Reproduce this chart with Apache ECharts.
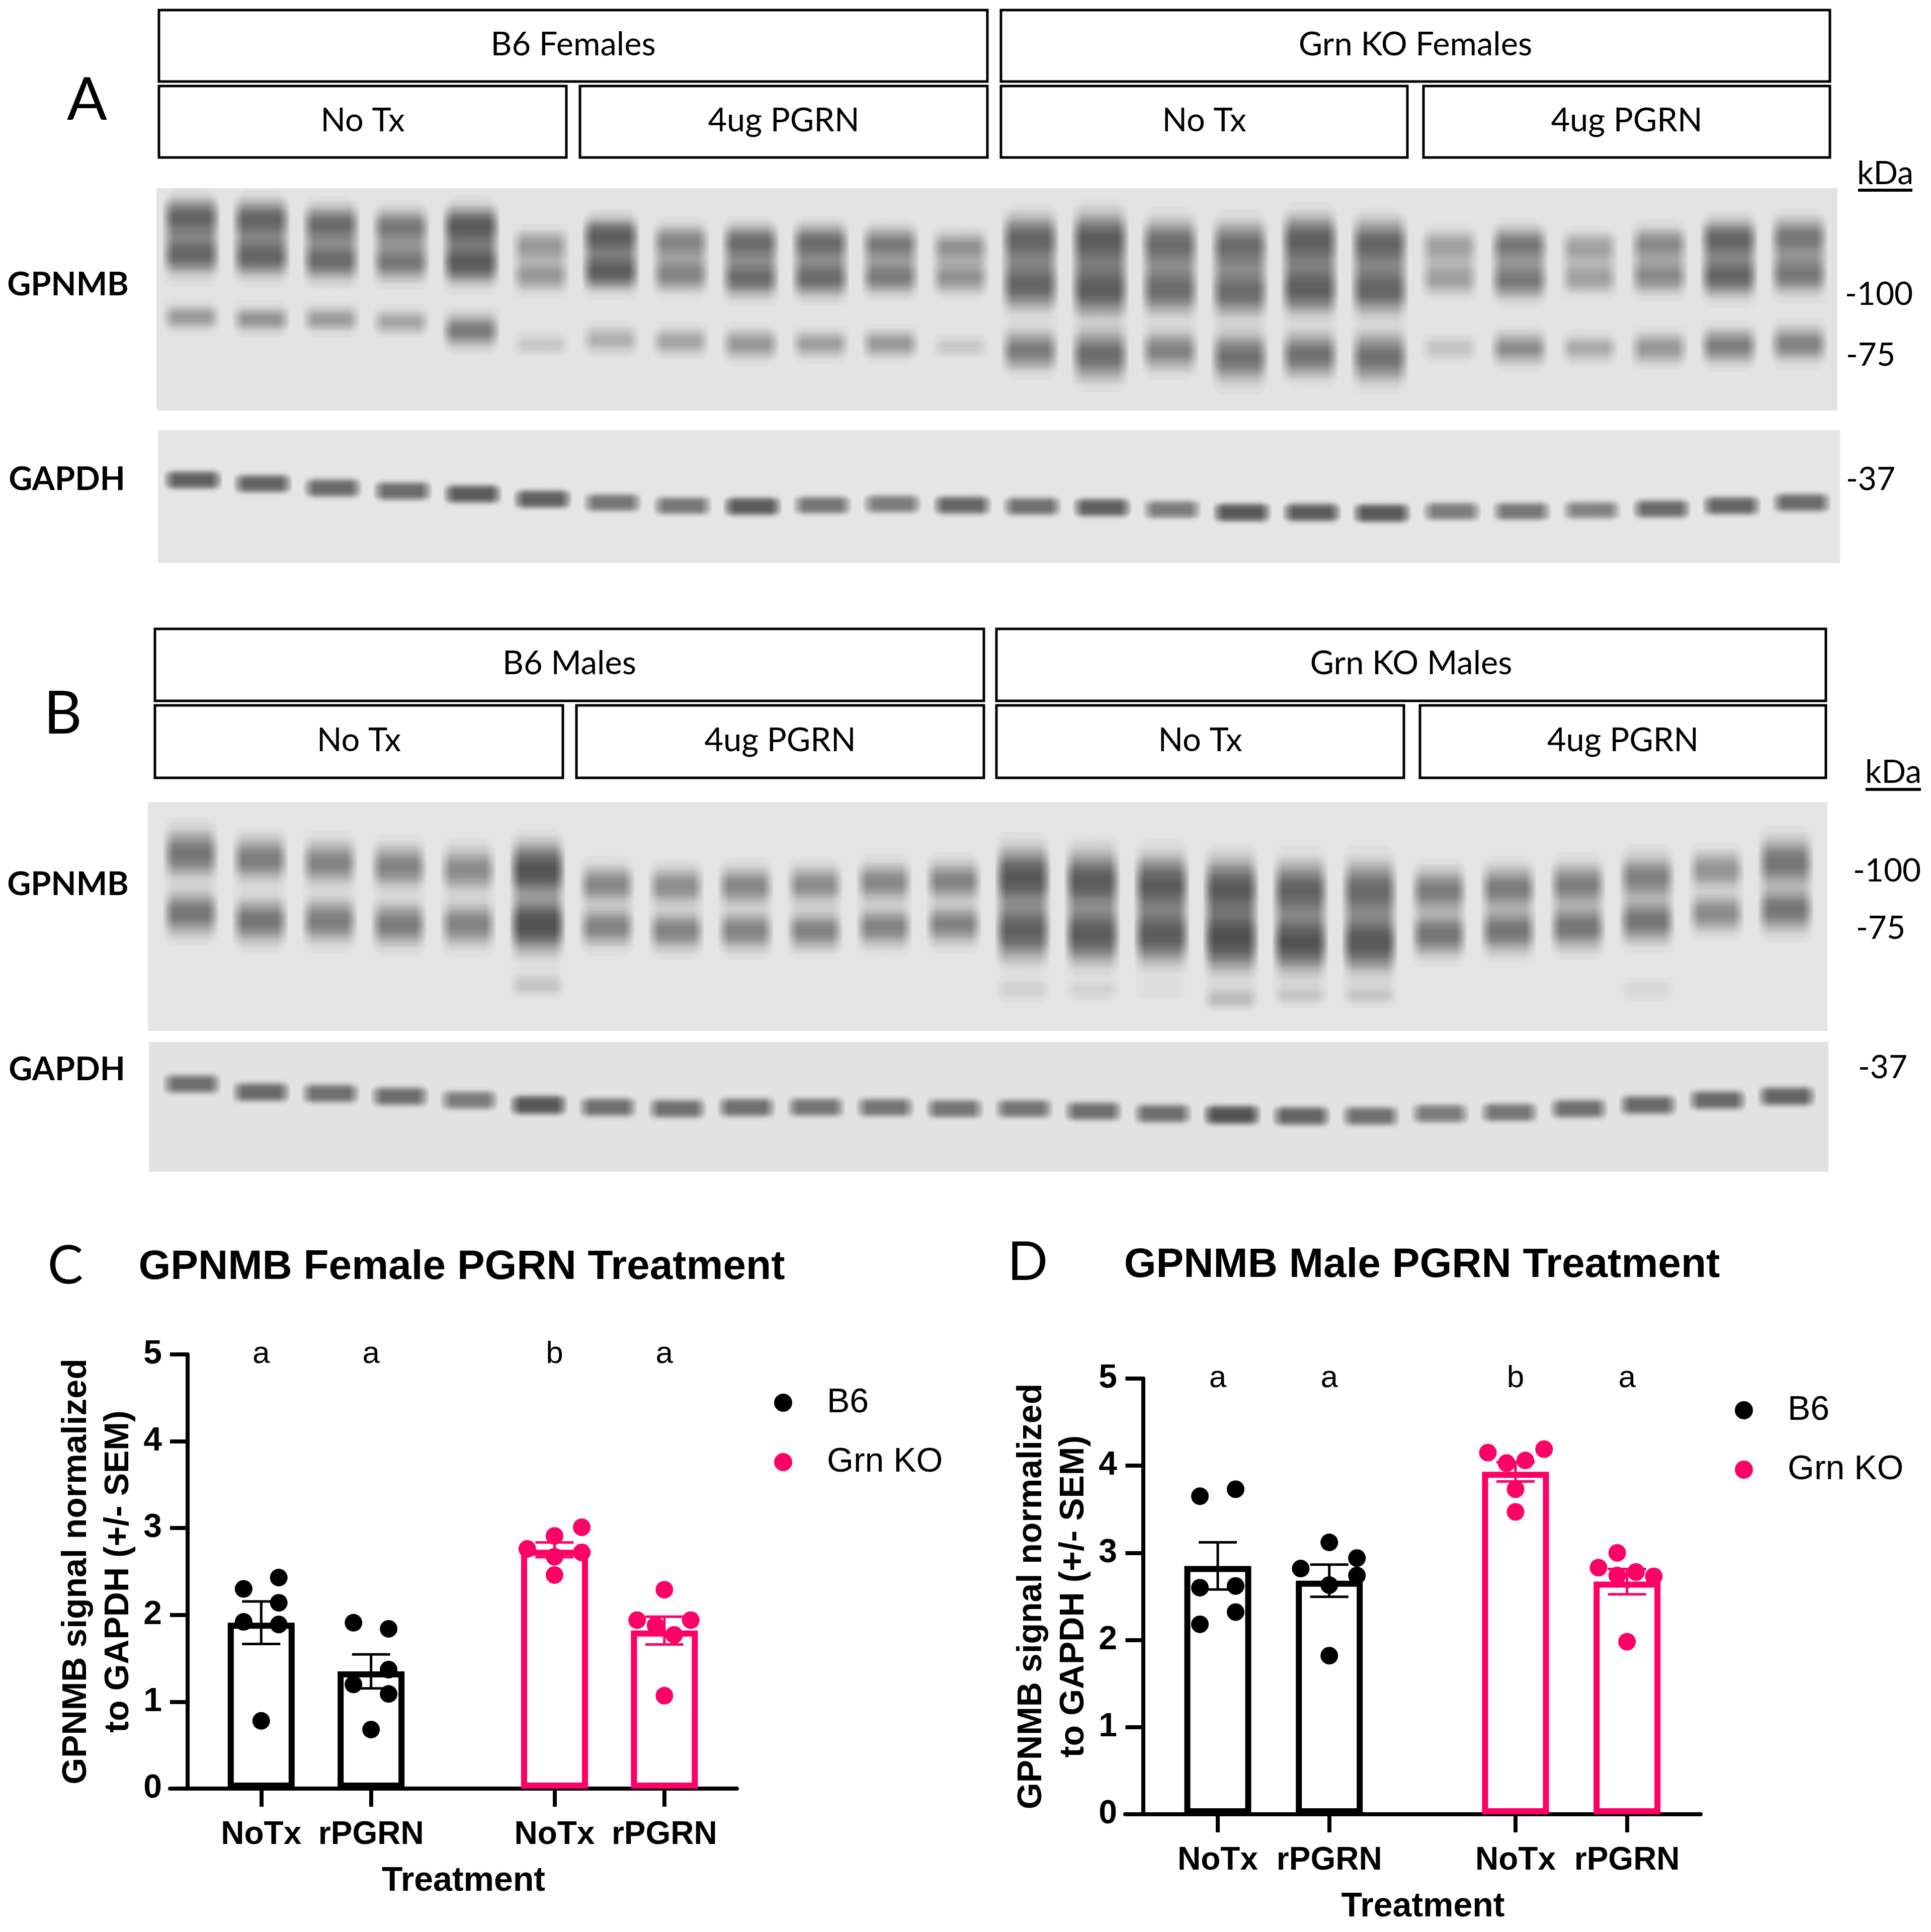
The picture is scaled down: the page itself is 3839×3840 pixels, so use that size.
<!DOCTYPE html>
<html>
<head>
<meta charset="utf-8">
<script src="https://cdn.jsdelivr.net/npm/echarts@6.0.0/dist/echarts.min.js"></script>
<style>
html,body{margin:0;padding:0;background:#fff;}
#chart{width:3839px;height:3840px;}
</style>
</head>
<body>
<div id="chart"></div>
<script>
// ---------------- DATA ----------------
// Western blot headers
const groupLabelsA = ['B6 Females', 'Grn KO Females'];
const groupLabelsB = ['B6 Males', 'Grn KO Males'];
const treatLabels = ['No Tx', '4ug PGRN', 'No Tx', '4ug PGRN'];
const markersA = ['-100', '-75', '-37'];
const markersB = ['-100', '-75', '-37'];

// Panel A, GPNMB blot: upper smear (migration % of blot height, spread %, darkness 0-1)
const aSmearCenter = [22,23,25,26,26, 33, 30,32,33,33,33,34, 34,35,36,37,35,36, 34,34,34,33,32,31];
const aSmearHeight = [34,34,33,32,34, 28, 32,30,32,32,30,28, 42,46,42,42,44,42, 30,32,28,30,34,34];
const aSmearInt    = [0.55,0.55,0.5,0.42,0.65, 0.25, 0.62,0.35,0.5,0.5,0.4,0.28, 0.55,0.62,0.5,0.5,0.6,0.55, 0.22,0.42,0.22,0.32,0.55,0.42];
// Panel A, GPNMB ~75 kDa band
const aLowerCenter = [58,59,59,60,64, 70, 68,69,70,70,70,71, 73,75,73,76,75,76, 72,72,72,72,71,70];
const aLowerHeight = [11,11,11,11,14, 10, 12,12,13,12,12,10, 17,21,17,21,19,21, 11,14,12,14,15,15];
const aLowerInt    = [0.3,0.35,0.3,0.25,0.5, 0.1, 0.2,0.25,0.32,0.28,0.32,0.1, 0.5,0.62,0.45,0.58,0.58,0.58, 0.12,0.38,0.22,0.32,0.48,0.45];
// Panel A, GAPDH
const aGapdhCenter = [37.5,40.3,43.5,45.8,48.1,51.9,54.6,56.9,57.4,56.5,55.6,56.5,57.4,58.3,59.7,62.0,62.0,62.5,61.1,61.1,60.2,59.3,56.9,54.6];
const aGapdhInt    = [0.75,0.7,0.65,0.65,0.8,0.75,0.55,0.55,0.8,0.55,0.5,0.7,0.6,0.75,0.5,0.85,0.8,0.85,0.5,0.55,0.45,0.65,0.7,0.65];

// Panel B, GPNMB ~100 kDa band
const bUpperCenter = [22.7,24.9,26.5,28.1,29.7,29.7, 36.2,36.8,36.8,36.2,35.1,34.6, 33.0,34.6,36.2,37.8,38.9,38.9, 38.9,37.8,36.2,33.0,29.7,26.5];
const bUpperHeight = [20,18,18,18,18,22, 16,16,16,16,16,16, 24,24,24,24,24,24, 18,18,18,18,16,20];
const bUpperInt    = [0.55,0.5,0.45,0.45,0.4, 0.9, 0.42,0.38,0.42,0.38,0.42,0.45, 0.85,0.8,0.8,0.8,0.72,0.65, 0.5,0.5,0.48,0.48,0.35,0.55];
// Panel B, GPNMB ~75 kDa band
const bLowerCenter = [48.6,51.9,51.9,53.5,53.5,53.5, 54.6,56.2,56.2,56.2,54.6,53.5, 56.2,57.8,57.8,59.5,61.1,61.1, 57.8,56.2,54.6,51.9,48.6,47.0];
const bLowerHeight = [18,18,18,18,18,22, 16,16,16,16,16,16, 24,24,24,26,24,24, 18,18,18,18,16,18];
const bLowerInt    = [0.55,0.55,0.5,0.5,0.45, 0.95, 0.45,0.45,0.45,0.45,0.45,0.45, 0.75,0.8,0.8,0.95,0.9,0.85, 0.55,0.55,0.55,0.55,0.4,0.55];
// Panel B, faint low-MW traces
const bTraceCenter = [83,83,83,83,83,80, 83,83,83,83,83,83, 82,82,82,86,84,84, 83,83,83,82,83,83];
const bTraceInt    = [0,0,0,0,0,0.12, 0,0,0,0,0,0, 0.07,0.06,0.03,0.15,0.1,0.1, 0,0,0,0.05,0,0];
// Panel B, GAPDH
const bGapdhCenter = [32.4,38.7,39.7,41.9,44.8,48.6,50.3,51.4,50.5,50.3,50.5,51.4,51.4,53.3,55.2,56.2,57.1,57.1,55.2,54.3,51.4,48.6,44.8,41.9];
const bGapdhInt    = [0.6,0.65,0.6,0.6,0.5,0.85,0.6,0.6,0.6,0.55,0.55,0.55,0.55,0.6,0.6,0.9,0.7,0.6,0.5,0.55,0.6,0.65,0.65,0.7];

// Panels C / D: quantification
const xLabels = ['NoTx', 'rPGRN', 'NoTx', 'rPGRN'];
const genotypes = ['B6', 'Grn KO'];
const sigLetters = ['a', 'a', 'b', 'a'];
const yTicks = [0, 1, 2, 3, 4, 5];

// Female (C)
const fB6NoTx  = [2.30, 2.43, 2.14, 1.92, 1.89, 0.78];
const fB6rPGRN = [1.91, 1.84, 1.37, 1.20, 1.09, 0.68];
const fKONoTx  = [3.01, 2.91, 2.76, 2.72, 2.67, 2.46];
const fKOrPGRN = [2.29, 1.94, 1.94, 1.88, 1.77, 1.07];
const fMeans = [1.91, 1.35, 2.75, 1.82];
const fSem   = [0.245, 0.195, 0.085, 0.16];

// Male (D)
const mB6NoTx  = [3.65, 3.73, 2.60, 2.62, 2.32, 2.18];
const mB6rPGRN = [3.12, 2.94, 2.82, 2.74, 2.63, 1.82];
const mKONoTx  = [4.15, 4.19, 4.03, 4.06, 3.73, 3.47];
const mKOrPGRN = [3.00, 2.83, 2.74, 2.78, 2.73, 1.98];
const mMeans = [2.85, 2.68, 3.93, 2.67];
const mSem   = [0.27, 0.185, 0.11, 0.145];

// ---------------- LAYOUT / STYLE ----------------
const ARIAL = "'Liberation Sans', Arial, sans-serif";
const CAL = "Lato, 'Open Sans', sans-serif";
const PINK = '#FF0066';
const BAND_RGB = '22,22,22';
const genoColor = ['#000000', PINK];

// horizontal jitter (in dot columns) used by the scatter overlay
const jitterF = [[-1,1,1,-1,1,0], [-1,1,1,-1,1,0], [1.55,0,-1.55,1.55,0,0], [0,-1.55,1.5,-0.5,0.55,0]];
const jitterM = [[-1,1,-1,1,1,-1], [0,1.55,-1.6,1.55,0,0], [-1.55,1.6,-0.5,0.55,0,0], [-0.55,-1.6,-0.55,0.5,1.5,0]];
const JIT = 0.16;
const firstBar = 0.67, groupGap = 0.67;
const barX = [0,1,2,3].map(i => firstBar + i + (i >= 2 ? groupGap : 0));

const laneIdx = Array.from({length: 24}, (_, i) => i);

// A lane is drawn as a vertical density profile (sum of soft bands), layered for soft side edges.
function laneRenderer(componentsOf, widthUnits, power) {
  return function (params, api) {
    const comps = componentsOf(api).filter(c => c[2] > 0);
    if (!comps.length) return null;
    const lane = api.value(0);
    let minY = 100, maxY = 0;
    comps.forEach(c => { minY = Math.min(minY, c[0] - 3.2 * c[1]); maxY = Math.max(maxY, c[0] + 3.2 * c[1]); });
    minY = Math.max(0, minY); maxY = Math.min(100, maxY);
    const pTop = api.coord([lane, minY]);
    const pBot = api.coord([lane, maxY]);
    const w = api.size([widthUnits, 1])[0];
    const N = 64, L = 8;
    const alphas = [];
    for (let k = 0; k <= N; k++) {
      const y = minY + (maxY - minY) * k / N;
      let d = 0;
      comps.forEach(c => { d += c[2] * Math.exp(-0.5 * Math.pow(Math.abs((y - c[0]) / c[1]), power)); });
      alphas.push(0.92 * (1 - Math.exp(-1.6 * d)));
    }
    const children = [];
    for (let l = 0; l < L; l++) {
      const ww = w * (1.05 - l * 0.055);
      const stops = alphas.map((a, k) => ({
        offset: k / N,
        color: 'rgba(' + BAND_RGB + ',' + (1 - Math.pow(1 - a, 1 / L)).toFixed(4) + ')'
      }));
      children.push({
        type: 'rect',
        shape: {x: pTop[0] - ww / 2, y: pTop[1], width: ww, height: pBot[1] - pTop[1], r: ww * 0.3},
        style: {fill: new echarts.graphic.LinearGradient(0, 0, 0, 1, stops)}
      });
    }
    return {type: 'group', children: children};
  };
}

function smearParts(c, h, a) {
  return [[c - 0.28 * h, 0.13 * h, a], [c + 0.25 * h, 0.13 * h, 0.95 * a], [c, 0.22 * h, 0.55 * a]];
}

function blotSeries(gi, data, renderer) {
  return {type: 'custom', xAxisIndex: gi, yAxisIndex: gi, data: data, renderItem: renderer, silent: true, z: 2};
}

// ---------------- GRIDS ----------------
const grids = [
  {left: 311, top: 374, width: 3342, height: 442, show: true, backgroundColor: '#e3e3e3', borderWidth: 0},
  {left: 314, top: 855, width: 3344, height: 264, show: true, backgroundColor: '#e5e5e5', borderWidth: 0},
  {left: 294, top: 1594, width: 3339, height: 455, show: true, backgroundColor: '#e4e4e4', borderWidth: 0},
  {left: 296, top: 2071, width: 3339, height: 258, show: true, backgroundColor: '#e2e2e2', borderWidth: 0},
  {left: 338, top: 2692, width: 1127, height: 863},
  {left: 2237, top: 2740, width: 1144, height: 866}
];

const blotX = (gi, min, max) => ({gridIndex: gi, type: 'value', min: min, max: max, show: false});
const blotY = gi => ({gridIndex: gi, type: 'value', min: 0, max: 100, inverse: true, show: false});

function quantX(gi) {
  return {
    gridIndex: gi, type: 'value', min: -0.16, max: 5,
    axisLine: {show: true, onZero: false, lineStyle: {color: '#000', width: 8}},
    axisTick: {show: true, length: 36, inside: false, customValues: barX, lineStyle: {color: '#000', width: 8}},
    axisLabel: {
      show: true, customValues: barX, margin: 60,
      fontSize: 64, fontWeight: 'bold', fontFamily: ARIAL, color: '#000',
      formatter: function (v) {
        let best = 0;
        barX.forEach((b, i) => { if (Math.abs(b - v) < Math.abs(barX[best] - v)) best = i; });
        return xLabels[best];
      }
    },
    splitLine: {show: false},
    name: 'Treatment', nameLocation: 'middle', nameGap: 150,
    nameTextStyle: {fontSize: 68, fontWeight: 'bold', fontFamily: ARIAL, color: '#000', padding: [0, 0, 0, 40]}
  };
}
function quantY(gi) {
  return {
    gridIndex: gi, type: 'value', min: 0, max: 5, interval: 1,
    axisLine: {show: true, onZero: true, lineStyle: {color: '#000', width: 8}},
    axisTick: {show: true, length: 35, inside: false, lineStyle: {color: '#000', width: 8}},
    axisLabel: {show: true, margin: 16, fontSize: 66, fontWeight: 'bold', fontFamily: ARIAL, color: '#000',
      formatter: v => (yTicks.indexOf(v) >= 0 ? String(v) : '')},
    splitLine: {show: false},
    name: 'GPNMB signal normalized\nto GAPDH (+/- SEM)', nameLocation: 'middle', nameGap: 60,
    nameTextStyle: {fontSize: 68, fontWeight: 'bold', fontFamily: ARIAL, color: '#000', lineHeight: 84}
  };
}

// ---------------- QUANT SERIES ----------------
function quantSeries(gi, groups, means, sems, jitters) {
  const out = [];
  out.push({
    type: 'bar', xAxisIndex: gi, yAxisIndex: gi, barWidth: 133, silent: true, z: 2,
    itemStyle: {color: '#ffffff', borderWidth: 12, borderColor: '#000'},
    data: means.map((m, i) => ({value: [barX[i], m], itemStyle: {borderColor: genoColor[i < 2 ? 0 : 1]}}))
  });
  out.push({
    type: 'custom', xAxisIndex: gi, yAxisIndex: gi, silent: true, z: 3,
    data: means.map((m, i) => [barX[i], m, sems[i], i < 2 ? 0 : 1]),
    renderItem: function (params, api) {
      const x = api.value(0), m = api.value(1), s = api.value(2), ci = api.value(3);
      const top = api.coord([x, m + s]), bot = api.coord([x, m - s]);
      const col = genoColor[ci];
      const half = 38;
      const ls = {stroke: col, lineWidth: 5};
      return {type: 'group', children: [
        {type: 'line', shape: {x1: top[0], y1: top[1], x2: bot[0], y2: bot[1]}, style: ls},
        {type: 'line', shape: {x1: top[0] - half, y1: top[1], x2: top[0] + half, y2: top[1]}, style: ls},
        {type: 'line', shape: {x1: bot[0] - half, y1: bot[1], x2: bot[0] + half, y2: bot[1]}, style: ls}
      ]};
    }
  });
  [0, 1].forEach(g => {
    const pts = [];
    [0, 1].forEach(t => {
      const bi = g * 2 + t;
      groups[bi].forEach((v, k) => pts.push([barX[bi] + jitters[bi][k] * JIT, v]));
    });
    out.push({
      type: 'scatter', name: genotypes[g], xAxisIndex: gi, yAxisIndex: gi, z: 4, silent: true,
      symbol: 'circle', symbolSize: 35, itemStyle: {color: genoColor[g], opacity: 1}, data: pts
    });
  });
  out.push({
    type: 'custom', xAxisIndex: gi, yAxisIndex: gi, silent: true, z: 5,
    data: barX.map((x, i) => [x, 5, i]),
    renderItem: function (params, api) {
      const p = api.coord([api.value(0), api.value(1)]);
      return {type: 'text', x: p[0], y: p[1], style: {
        text: sigLetters[api.value(2)], fontSize: 62, fontFamily: ARIAL, fill: '#000',
        align: 'center', verticalAlign: 'middle'}};
    }
  });
  return out;
}

// ---------------- GRAPHIC (headers, labels) ----------------
const graphic = [];
function box(x1, y1, x2, y2, label) {
  graphic.push({type: 'rect', shape: {x: x1, y: y1, width: x2 - x1, height: y2 - y1},
    style: {fill: '#fff', stroke: '#000', lineWidth: 5}, silent: true});
  graphic.push({type: 'text', x: (x1 + x2) / 2, y: (y1 + y2) / 2 - 2,
    style: {text: label, fontSize: 65, fontFamily: CAL, fill: '#000', align: 'center', verticalAlign: 'middle'}, silent: true});
}
function txt(x, y, s, size, weight, family, align) {
  graphic.push({type: 'text', x: x, y: y,
    style: {text: s, fontSize: size, fontWeight: weight || 'normal', fontFamily: family || CAL, fill: '#000',
      align: align || 'center', verticalAlign: 'middle'}, silent: true});
}
function hline(x1, x2, y, w) {
  graphic.push({type: 'line', shape: {x1: x1, y1: y, x2: x2, y2: y}, style: {stroke: '#000', lineWidth: w}, silent: true});
}
// Panel A headers
box(316, 20, 1963, 162, groupLabelsA[0]);
box(1990, 20, 3638, 162, groupLabelsA[1]);
[[316,1126],[1153,1963],[1990,2798],[2830,3638]].forEach((r, i) => box(r[0], 171, r[1], 313, treatLabels[i]));
// Panel B headers
box(308, 1250, 1956, 1393, groupLabelsB[0]);
box(1981, 1250, 3630, 1393, groupLabelsB[1]);
[[308,1119],[1146,1956],[1981,2791],[2823,3630]].forEach((r, i) => box(r[0], 1402, r[1], 1546, treatLabels[i]));
// panel letters
txt(173, 200, 'A', 118);
txt(125, 1420, 'B', 118);
txt(130, 2517, 'C', 106);
txt(2043, 2510, 'D', 106);
// blot labels
txt(135, 566, 'GPNMB', 65, 'bold');
txt(133, 953, 'GAPDH', 65, 'bold');
txt(135, 1758, 'GPNMB', 65, 'bold');
txt(133, 2126, 'GAPDH', 65, 'bold');
// markers
txt(3748, 345, 'kDa', 64);
hline(3694, 3802, 378, 6);
txt(3668, 585, markersA[0], 64, 'normal', CAL, 'left');
txt(3670, 706, markersA[1], 64, 'normal', CAL, 'left');
txt(3670, 953, markersA[2], 64, 'normal', CAL, 'left');
txt(3764, 1535, 'kDa', 64);
hline(3709, 3819, 1569, 6);
txt(3684, 1731, markersB[0], 64, 'normal', CAL, 'left');
txt(3690, 1845, markersB[1], 64, 'normal', CAL, 'left');
txt(3694, 2122, markersB[2], 64, 'normal', CAL, 'left');
// quant titles
txt(918, 2519, 'GPNMB Female PGRN Treatment', 82, 'bold', ARIAL);
txt(2827, 2515, 'GPNMB Male PGRN Treatment', 82, 'bold', ARIAL);

// ---------------- BLOT SERIES ----------------
const aGpnmbData = laneIdx.map(i => [i, aSmearCenter[i], aSmearHeight[i], aSmearInt[i], aLowerCenter[i], aLowerHeight[i], aLowerInt[i]]);
const aGapdhData = laneIdx.map(i => [i, aGapdhCenter[i], aGapdhInt[i]]);
const bGpnmbData = laneIdx.map(i => [i, bUpperCenter[i], bUpperHeight[i], bUpperInt[i], bLowerCenter[i], bLowerHeight[i], bLowerInt[i], bTraceCenter[i], bTraceInt[i]]);
const bGapdhData = laneIdx.map(i => [i, bGapdhCenter[i], bGapdhInt[i]]);

const aGpnmbRender = laneRenderer(api =>
  smearParts(api.value(1), api.value(2), api.value(3)).concat([[api.value(4), api.value(5) / 3.5, api.value(6)]]), 0.78, 2);
const gapdhRender = h => laneRenderer(api => [[api.value(1), h / 3.5, api.value(2)]], 0.8, 3);
const bGpnmbRender = laneRenderer(api => [
  [api.value(1), api.value(2) / 3.5, api.value(3)],
  [api.value(4), api.value(5) / 3.5, api.value(6)],
  [api.value(7), 10 / 3.5, api.value(8)]
], 0.76, 2);

// ---------------- OPTION ----------------
const series = [
  blotSeries(0, aGpnmbData, aGpnmbRender),
  blotSeries(1, aGapdhData, gapdhRender(17)),
  blotSeries(2, bGpnmbData, bGpnmbRender),
  blotSeries(3, bGapdhData, gapdhRender(18))
].concat(
  quantSeries(4, [fB6NoTx, fB6rPGRN, fKONoTx, fKOrPGRN], fMeans, fSem, jitterF),
  quantSeries(5, [mB6NoTx, mB6rPGRN, mKONoTx, mKOrPGRN], mMeans, mSem, jitterM)
);

const legendBase = {
  orient: 'vertical', icon: 'circle', itemWidth: 36, itemHeight: 36, itemGap: 38,
  selectedMode: false,
  textStyle: {fontSize: 68, fontFamily: ARIAL, color: '#000', padding: [0, 0, 0, 64], lineHeight: 80},
  data: genotypes
};

const option = {
  animation: false,
  backgroundColor: '#ffffff',
  grid: grids,
  xAxis: [blotX(0, -0.5, 23.55), blotX(1, -0.5, 23.55), blotX(2, -0.62, 23.6), blotX(3, -0.62, 23.6), quantX(4), quantX(5)],
  yAxis: [blotY(0), blotY(1), blotY(2), blotY(3), quantY(4), quantY(5)],
  legend: [
    Object.assign({}, legendBase, {left: 1534, top: 2743}),
    Object.assign({}, legendBase, {left: 3444, top: 2758})
  ],
  graphic: graphic,
  series: series
};

const chart = echarts.init(document.getElementById('chart'), null, {renderer: 'canvas'});
chart.setOption(option);
</script>
</body>
</html>
